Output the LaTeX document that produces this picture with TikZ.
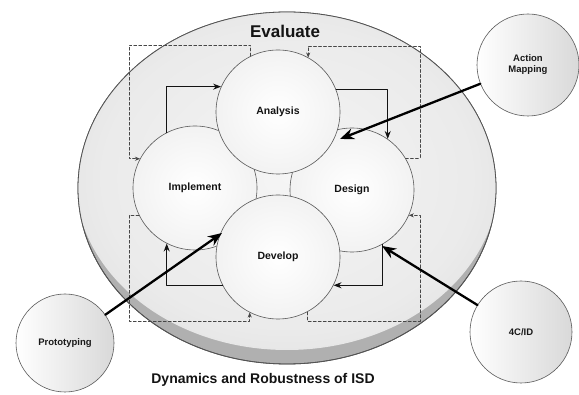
\documentclass[tikz,border=0pt]{standalone}
\usepackage{fontspec}
\usetikzlibrary{arrows.meta}
\setmainfont{Liberation Sans}
\pgfdeclareradialshading{evalglow}{\pgfpointorigin}{color(0bp)=(gray!8); color(22bp)=(gray!16); color(34bp)=(gray!27); color(44bp)=(gray!40); color(50bp)=(gray!46)}
\begin{document}
\begin{tikzpicture}[x=1pt, y=-1pt, line cap=round, line join=round, font=\bfseries, >=stealth]
	\tikzset{phase/.style={circle, draw=gray!70!black, line width=.6pt, inner color=white, outer color=gray!10, minimum size=124pt, inner sep=0pt, text=gray!15!black, font=\fontsize{10.5}{12}\selectfont\bfseries},
	tool/.style={circle, draw=gray!70!black, line width=.6pt, left color=white, right color=gray!30, minimum size=102pt, inner sep=0pt, align=center, text=gray!20!black, font=\fontsize{9.5}{11}\selectfont\bfseries},
	cyclearrow/.style={-{Stealth[length=8pt, width=6pt]}, line width=1.1pt, gray!15!black},
	evalline/.style={-{Stealth[length=5pt, width=4pt]}, dashed, dash pattern=on 3pt off 2pt, line width=.6pt, gray!55!black},
	toolarrow/.style={-{Stealth[length=14pt, width=11pt]}, line width=2.3pt, black}}
	\useasboundingbox (0,0) rectangle (579,395);
	\filldraw[fill=gray!62, draw=gray!65!black, line width=.8pt] (287,188) ellipse (209 and 176);
	\begin{scope}
	\clip (287,188) ellipse (209 and 176);
	\shade[shading=evalglow] (287,178) ellipse (212 and 172);
	\end{scope}
	\draw[gray!65!black, line width=.8pt] (287,188) ellipse (209 and 176);
	\node[phase] (imp) at (195,188) {Implement};
	\node[phase] (des) at (352,190) {Design};
	\node[phase] (dev) at (278,257) {Develop};
	\node[phase] (ana) at (278,112) {Analysis};
	\draw[cyclearrow] (imp.117) |- (ana.156);
	\draw[cyclearrow] (ana.21) -| (des.55);
	\draw[cyclearrow] (des.-61) |- (dev.-27);
	\draw[cyclearrow] (dev.207) -| (imp.243);
	\coordinate (tl) at (129,45);
	\coordinate (tr) at (420,46);
	\coordinate (br) at (420,321);
	\coordinate (bl) at (129,321);
	\draw[evalline] (ana.116) |- (tl) |- (imp.152);
	\draw[evalline] (des.31) -| (tr) -| (ana.61);
	\draw[evalline] (dev.-62) |- (br) |- (des.-24);
	\draw[evalline] (imp.206) -| (bl) -| (dev.243);
	\node[tool] (am) at (528,65) {Action\\Mapping};
	\node[tool] (cid) at (521,332) {4C/ID};
	\node[tool, minimum size=98pt] (proto) at (65,343) {Prototyping};
	\coordinate (amtip) at (340,139);
	\coordinate (cidtip) at (382,246);
	\coordinate (prototip) at (222,233);
	\draw[toolarrow] (am) -- (amtip);
	\draw[toolarrow] (cid) -- (cidtip);
	\draw[toolarrow] (proto) -- (prototip);
	\node[text=gray!15!black, font=\fontsize{17}{20}\selectfont\bfseries] (eval) at (285,31) {Evaluate};
	\node[text=gray!15!black, font=\fontsize{14}{16}\selectfont\bfseries] (title) at (263,380) {Dynamics and Robustness of ISD};
\end{tikzpicture}
\end{document}
